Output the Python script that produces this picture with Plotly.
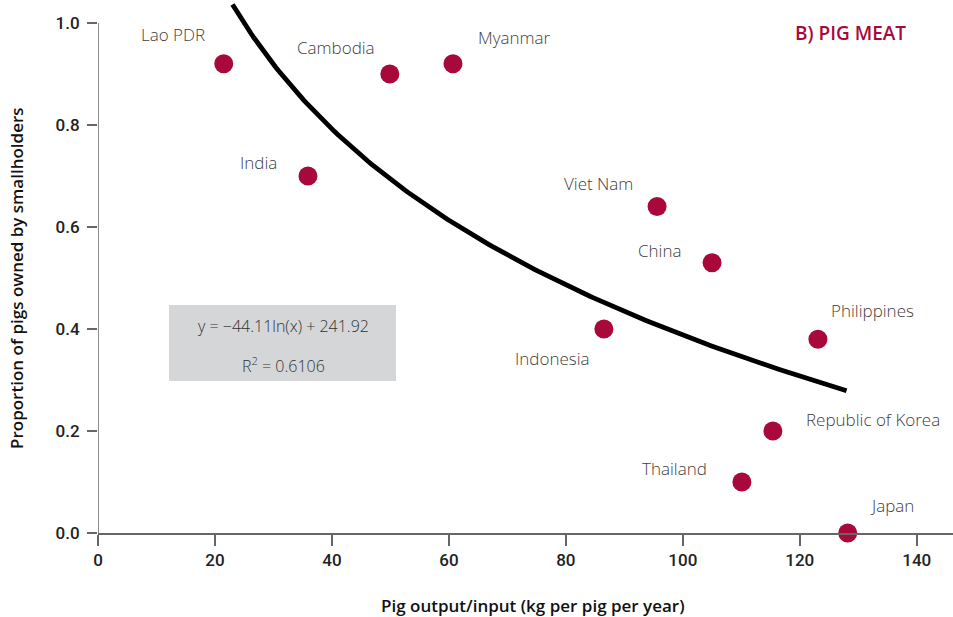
import numpy as np
import plotly.graph_objects as go

# ---- data ----
countries = ["Lao PDR", "Cambodia", "Myanmar", "India", "Viet Nam", "China",
             "Indonesia", "Philippines", "Republic of Korea", "Thailand", "Japan"]
pig_output = [21.5, 49.9, 60.7, 35.9, 95.6, 105.0, 86.5, 123.1, 115.4, 110.1, 128.2]
share_smallholders = [0.92, 0.90, 0.92, 0.70, 0.64, 0.53, 0.40, 0.38, 0.20, 0.10, 0.0]

# trendline as stated on the chart: y = -44.11 ln(x) + 241.92 (in percent)
trend_a = -44.11
trend_b = 241.92
trend_x_start, trend_x_end = 23.0, 128.0

x_ticks = [0, 20, 40, 60, 80, 100, 120, 140]
y_ticks = [0.0, 0.2, 0.4, 0.6, 0.8, 1.0]
y_ticklabels = ["0.0", "0.2", "0.4", "0.6", "0.8", "1.0"]

# label offsets (pixels) relative to each point
label_offsets = [(-51, -29), (-54, -26), (62, -26), (-49, -13), (-59, -23), (-53, -12),
                 (-51, 30), (55, -29), (100, -11), (-67, -14), (44, -28)]

RED = "#A9083B"
FONT = "Open Sans"
TICKFONT = "Roboto"

L, B, W, H = 98, 84, 855, 533  # plot area in pixels

def px(xp):
    return (xp - L) / W

def py(yp):
    return (H - yp) / H

trend_x = np.linspace(trend_x_start, trend_x_end, 200)
trend_y = (trend_a * np.log(trend_x) + trend_b) / 100.0

fig = go.Figure()
fig.add_trace(go.Scatter(x=trend_x, y=trend_y, mode="lines",
                         line=dict(color="black", width=4.8), hoverinfo="skip"))
fig.add_trace(go.Scatter(x=pig_output, y=share_smallholders, mode="markers",
                         marker=dict(color=RED, size=19), cliponaxis=False,
                         text=countries, hoverinfo="text"))

for c, xv, yv, (dx, dy) in zip(countries, pig_output, share_smallholders, label_offsets):
    fig.add_annotation(x=xv, y=yv, xref="x", yref="y", text=c, showarrow=False,
                       xanchor="center", yanchor="middle",
                       xshift=dx, yshift=-dy,
                       font=dict(family=FONT, size=17, color="#404040", weight=300))

# y axis line (ends at 1.0)
fig.add_shape(type="line", xref="x", yref="y", x0=0, x1=0, y0=0, y1=1.0,
              line=dict(color="#666", width=1.5), layer="below")

# equation box
fig.add_shape(type="rect", xref="paper", yref="paper",
              x0=px(169), x1=px(396), y0=py(381), y1=py(305),
              fillcolor="#D5D6D7", line=dict(width=0), layer="below")
fig.add_annotation(xref="paper", yref="paper", x=px(283), y=py(326),
                   xanchor="center", yanchor="middle",
                   text="y = −44.11ln(x) + 241.92", showarrow=False,
                   font=dict(family=FONT, size=16, color="#333", weight=300))
fig.add_annotation(xref="paper", yref="paper", x=px(283), y=py(365),
                   xanchor="center", yanchor="middle",
                   text="R<sup>2</sup> = 0.6106", showarrow=False,
                   font=dict(family=FONT, size=16, color="#333", weight=300))

# panel title
fig.add_annotation(xref="paper", yref="paper", x=px(850), y=py(33),
                   xanchor="center", yanchor="middle",
                   text="B) PIG MEAT", showarrow=False,
                   font=dict(family=FONT, size=19, color=RED, weight=600))

# axis titles
fig.add_annotation(xref="paper", yref="paper", x=px(533), y=py(605),
                   xanchor="center", yanchor="middle", showarrow=False,
                   text="Pig output/input (kg per pig per year)",
                   font=dict(family=FONT, size=17, color="#111", weight=600))
fig.add_annotation(xref="paper", yref="paper", x=px(16), y=py(278),
                   xanchor="center", yanchor="middle", showarrow=False, textangle=-90,
                   text="Proportion of pigs owned by smallholders",
                   font=dict(family=FONT, size=17, color="#111", weight=600))

fig.update_layout(
    width=953, height=617,
    margin=dict(l=L, r=0, t=0, b=B, autoexpand=False),
    plot_bgcolor="white", paper_bgcolor="white",
    showlegend=False,
    font=dict(family=FONT, color="#222"),
    xaxis=dict(range=[0, 146.2], tickvals=x_ticks, ticks="outside", ticklen=11,
               tickcolor="#666", tickwidth=1.5, showline=True, linecolor="#666",
               linewidth=1.5, showgrid=False, zeroline=False, automargin=False,
               tickfont=dict(family=TICKFONT, size=17, color="#222", weight=500)),
    yaxis=dict(range=[0, 1.045], tickvals=y_ticks, ticktext=y_ticklabels,
               ticks="outside", ticklen=10, tickcolor="#666", tickwidth=1.5,
               showline=False, showgrid=False, zeroline=False, automargin=False,
               ticklabelstandoff=4,
               tickfont=dict(family=TICKFONT, size=17, color="#222", weight=500)),
)

fig.write_html("out.html", config={"displayModeBar": False},
               post_script="document.body.style.margin='0';document.body.style.overflow='hidden';")
